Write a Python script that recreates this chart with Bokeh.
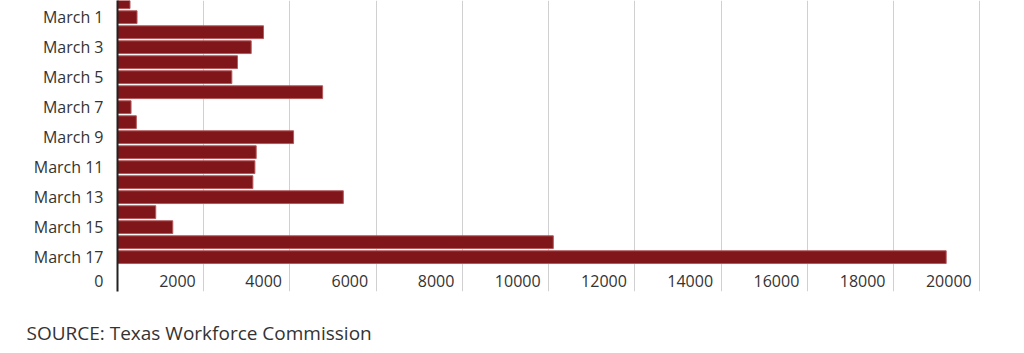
from bokeh.plotting import figure
from bokeh.models import Range1d, FixedTicker, ColumnDataSource, LabelSet, Title
from bokeh.core.properties import value
from bokeh.embed import file_html
from bokeh.resources import INLINE

dates = ["February 29", "March 1", "March 2", "March 3", "March 4", "March 5", "March 6",
         "March 7", "March 8", "March 9", "March 10", "March 11", "March 12", "March 13",
         "March 14", "March 15", "March 16", "March 17"]
claims = [290, 453, 3387, 3101, 2783, 2652, 4758, 314, 437, 4084, 3217, 3187, 3140,
          5238, 887, 1282, 10109, 19222]
x_ticks = [0, 2000, 4000, 6000, 8000, 10000, 12000, 14000, 16000, 18000, 20000]
x_tick_labels = [str(v) for v in x_ticks]
source_text = "SOURCE: Texas Workforce Commission"

FONT = "Open Sans"
TXT = "#333333"

idx = list(range(len(dates)))
src = ColumnDataSource(dict(y=idx, v=claims, label=dates))

p = figure(width=1024, height=353, output_backend="svg", toolbar_location=None,
           x_range=Range1d(0, 20250), y_range=Range1d(19.29, -0.113),
           min_border_left=117, min_border_right=34, min_border_top=0, min_border_bottom=62)
p.outline_line_color = None
p.background_fill_color = "white"
p.border_fill_color = "white"

p.hbar(y="y", right="v", left=0, height=0.85, source=src,
       fill_color="#80161a", line_color="#b3585b", line_width=1)

p.xaxis.visible = False
p.ygrid.visible = False
p.xgrid.ticker = FixedTicker(ticks=x_ticks[1:])
p.xgrid.grid_line_color = "#d0d0d0"
p.xgrid.grid_line_width = 1

# row (in category units) on which the value-axis labels sit, below the last bar
label_row = len(dates) + 0.62

yax = p.yaxis[0]
yticks = idx[1::2] + [label_row]
yax.ticker = FixedTicker(ticks=yticks)
overrides = {i: dates[i] for i in idx[1::2]}
overrides[label_row] = x_tick_labels[0]
yax.major_label_overrides = overrides
yax.major_tick_line_color = None
yax.minor_tick_line_color = None
yax.major_tick_out = 0
yax.major_tick_in = 0
yax.major_label_standoff = 14
yax.axis_line_color = "#222222"
yax.axis_line_width = 2
yax.major_label_text_font = FONT
yax.major_label_text_font_size = "16px"
yax.major_label_text_color = TXT

tsrc = ColumnDataSource(dict(x=x_ticks[1:], t=x_tick_labels[1:], y=[label_row] * (len(x_ticks) - 1)))
p.add_layout(LabelSet(x="x", y="y", text="t", source=tsrc,
                      x_offset=-8, text_align="right", text_baseline="middle",
                      text_font=value(FONT), text_font_size=value("16px"), text_color=TXT))

# spacer between the plot frame and the source line
p.add_layout(Title(text=" ", text_font_size="1px", standoff=23), "below")
p.add_layout(Title(text=source_text, align="left", offset=-91, standoff=0,
                   vertical_align="bottom",
                   text_font=FONT, text_font_size="19px", text_color=TXT,
                   text_font_style="normal"), "below")

open("out.html", "w").write(file_html(p, INLINE))
